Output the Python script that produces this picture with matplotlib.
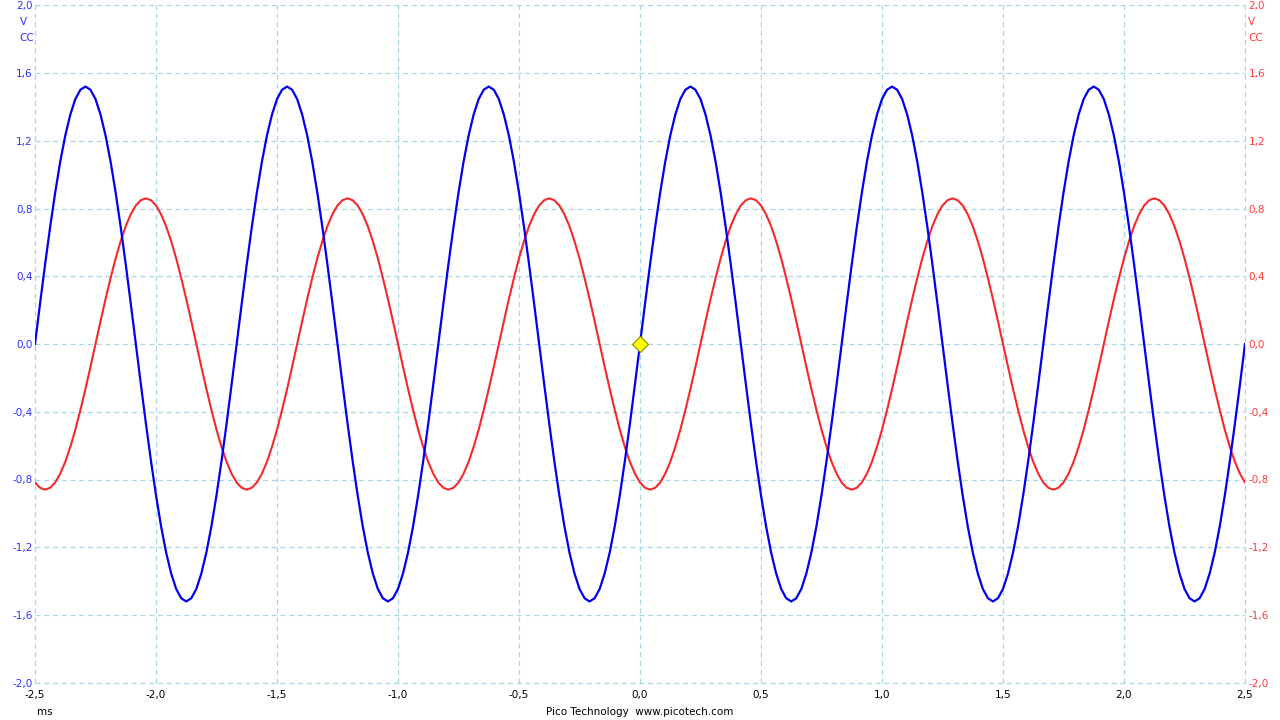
import numpy as np
import matplotlib
matplotlib.use("Agg")
import matplotlib.pyplot as plt

# ---------------- data ----------------
time_ms = np.linspace(-2.5, 2.5, 241)  # sample instants, ms

channel_a_v = [
    0.0, 0.238, 0.470, 0.690, 0.893, 1.075, 1.230, 1.354, 1.446, 1.501,
    1.520, 1.501, 1.446, 1.354, 1.230, 1.075, 0.893, 0.690, 0.470, 0.238,
    0.0, -0.238, -0.470, -0.690, -0.893, -1.075, -1.230, -1.354, -1.446, -1.501,
    -1.520, -1.501, -1.446, -1.354, -1.230, -1.075, -0.893, -0.690, -0.470, -0.238,
    0.0, 0.238, 0.470, 0.690, 0.893, 1.075, 1.230, 1.354, 1.446, 1.501,
    1.520, 1.501, 1.446, 1.354, 1.230, 1.075, 0.893, 0.690, 0.470, 0.238,
    0.0, -0.238, -0.470, -0.690, -0.893, -1.075, -1.230, -1.354, -1.446, -1.501,
    -1.520, -1.501, -1.446, -1.354, -1.230, -1.075, -0.893, -0.690, -0.470, -0.238,
    0.0, 0.238, 0.470, 0.690, 0.893, 1.075, 1.230, 1.354, 1.446, 1.501,
    1.520, 1.501, 1.446, 1.354, 1.230, 1.075, 0.893, 0.690, 0.470, 0.238,
    0.0, -0.238, -0.470, -0.690, -0.893, -1.075, -1.230, -1.354, -1.446, -1.501,
    -1.520, -1.501, -1.446, -1.354, -1.230, -1.075, -0.893, -0.690, -0.470, -0.238,
    0.0, 0.238, 0.470, 0.690, 0.893, 1.075, 1.230, 1.354, 1.446, 1.501,
    1.520, 1.501, 1.446, 1.354, 1.230, 1.075, 0.893, 0.690, 0.470, 0.238,
    0.0, -0.238, -0.470, -0.690, -0.893, -1.075, -1.230, -1.354, -1.446, -1.501,
    -1.520, -1.501, -1.446, -1.354, -1.230, -1.075, -0.893, -0.690, -0.470, -0.238,
    0.0, 0.238, 0.470, 0.690, 0.893, 1.075, 1.230, 1.354, 1.446, 1.501,
    1.520, 1.501, 1.446, 1.354, 1.230, 1.075, 0.893, 0.690, 0.470, 0.238,
    0.0, -0.238, -0.470, -0.690, -0.893, -1.075, -1.230, -1.354, -1.446, -1.501,
    -1.520, -1.501, -1.446, -1.354, -1.230, -1.075, -0.893, -0.690, -0.470, -0.238,
    0.0, 0.238, 0.470, 0.690, 0.893, 1.075, 1.230, 1.354, 1.446, 1.501,
    1.520, 1.501, 1.446, 1.354, 1.230, 1.075, 0.893, 0.690, 0.470, 0.238,
    0.0, -0.238, -0.470, -0.690, -0.893, -1.075, -1.230, -1.354, -1.446, -1.501,
    -1.520, -1.501, -1.446, -1.354, -1.230, -1.075, -0.893, -0.690, -0.470, -0.238,
    0.0,
]

channel_b_v = [
    -0.818, -0.849, -0.860, -0.849, -0.818, -0.766, -0.696, -0.608, -0.506, -0.390,
    -0.266, -0.135, 0.0, 0.135, 0.266, 0.390, 0.506, 0.608, 0.696, 0.766,
    0.818, 0.849, 0.860, 0.849, 0.818, 0.766, 0.696, 0.608, 0.506, 0.390,
    0.266, 0.135, 0.0, -0.135, -0.266, -0.390, -0.506, -0.608, -0.696, -0.766,
    -0.818, -0.849, -0.860, -0.849, -0.818, -0.766, -0.696, -0.608, -0.506, -0.390,
    -0.266, -0.135, 0.0, 0.135, 0.266, 0.390, 0.506, 0.608, 0.696, 0.766,
    0.818, 0.849, 0.860, 0.849, 0.818, 0.766, 0.696, 0.608, 0.506, 0.390,
    0.266, 0.135, 0.0, -0.135, -0.266, -0.390, -0.506, -0.608, -0.696, -0.766,
    -0.818, -0.849, -0.860, -0.849, -0.818, -0.766, -0.696, -0.608, -0.506, -0.390,
    -0.266, -0.135, 0.0, 0.135, 0.266, 0.390, 0.506, 0.608, 0.696, 0.766,
    0.818, 0.849, 0.860, 0.849, 0.818, 0.766, 0.696, 0.608, 0.506, 0.390,
    0.266, 0.135, 0.0, -0.135, -0.266, -0.390, -0.506, -0.608, -0.696, -0.766,
    -0.818, -0.849, -0.860, -0.849, -0.818, -0.766, -0.696, -0.608, -0.506, -0.390,
    -0.266, -0.135, 0.0, 0.135, 0.266, 0.390, 0.506, 0.608, 0.696, 0.766,
    0.818, 0.849, 0.860, 0.849, 0.818, 0.766, 0.696, 0.608, 0.506, 0.390,
    0.266, 0.135, 0.0, -0.135, -0.266, -0.390, -0.506, -0.608, -0.696, -0.766,
    -0.818, -0.849, -0.860, -0.849, -0.818, -0.766, -0.696, -0.608, -0.506, -0.390,
    -0.266, -0.135, 0.0, 0.135, 0.266, 0.390, 0.506, 0.608, 0.696, 0.766,
    0.818, 0.849, 0.860, 0.849, 0.818, 0.766, 0.696, 0.608, 0.506, 0.390,
    0.266, 0.135, 0.0, -0.135, -0.266, -0.390, -0.506, -0.608, -0.696, -0.766,
    -0.818, -0.849, -0.860, -0.849, -0.818, -0.766, -0.696, -0.608, -0.506, -0.390,
    -0.266, -0.135, 0.0, 0.135, 0.266, 0.390, 0.506, 0.608, 0.696, 0.766,
    0.818, 0.849, 0.860, 0.849, 0.818, 0.766, 0.696, 0.608, 0.506, 0.390,
    0.266, 0.135, 0.0, -0.135, -0.266, -0.390, -0.506, -0.608, -0.696, -0.766,
    -0.818,
]

x_ticks = [-2.5, -2.0, -1.5, -1.0, -0.5, 0.0, 0.5, 1.0, 1.5, 2.0, 2.5]
y_ticks = [-2.0, -1.6, -1.2, -0.8, -0.4, 0.0, 0.4, 0.8, 1.2, 1.6, 2.0]
trigger_point = (0.0, 0.0)


def fmt(v):
    s = f"{v:.1f}".replace(".", ",")
    return "0,0" if s == "-0,0" else s


x_labels = [fmt(v) for v in x_ticks]
y_labels = [fmt(v) for v in y_ticks]

# ---------------- styling ----------------
plt.rcParams["font.family"] = ["DejaVu Sans"]
BLUE = "#0000ee"
RED = "#f42a2a"
BLUE_TXT = "#2f2fff"
RED_TXT = "#ff3a3a"
GRID = "#a9d6e2"
FS = 7.5

W, H = 1280, 720
fig = plt.figure(figsize=(W / 100, H / 100), dpi=100)
fig.patch.set_facecolor("white")

left_px, right_px = 35, 1245
top_px, bottom_px = 5.25, 682.75
ax = fig.add_axes([left_px / W, 1 - bottom_px / H,
                   (right_px - left_px) / W, (bottom_px - top_px) / H])

ax.plot(time_ms, channel_b_v, color=RED, lw=1.5, zorder=3)
ax.plot(time_ms, channel_a_v, color=BLUE, lw=1.6, zorder=4)
ax.plot([trigger_point[0]], [trigger_point[1]], marker="D", markersize=8,
        markerfacecolor="#ffff00", markeredgecolor="#8a8a00", markeredgewidth=0.8,
        zorder=5, clip_on=False)

ax.set_xlim(-2.5, 2.5)
ax.set_ylim(-2.0, 2.0)
ax.set_xticks(x_ticks)
ax.set_xticklabels(x_labels)
ax.set_yticks(y_ticks)
ax.set_yticklabels(y_labels)
ax.tick_params(axis="x", length=0, pad=5, labelsize=FS, labelcolor="black")
ax.tick_params(axis="y", length=0, pad=1.5, labelsize=FS, labelcolor=BLUE_TXT)
for s in ax.spines.values():
    s.set_visible(False)
ax.grid(True, color=GRID, lw=0.9, linestyle=(0, (4, 3)), zorder=1)
for gl in ax.get_xgridlines() + ax.get_ygridlines():
    gl.set_clip_on(False)

ax2 = ax.twinx()
ax2.set_ylim(-2.0, 2.0)
ax2.set_yticks(y_ticks)
ax2.set_yticklabels(y_labels)
ax2.tick_params(axis="y", length=0, pad=2.5, labelsize=FS, labelcolor=RED_TXT)
for s in ax2.spines.values():
    s.set_visible(False)

# unit labels
fig.text(20 / W, 1 - 22 / H, "V", color=BLUE_TXT, fontsize=FS, ha="left", va="center")
fig.text(19 / W, 1 - 38 / H, "CC", color=BLUE_TXT, fontsize=FS, ha="left", va="center")
fig.text(1248 / W, 1 - 22 / H, "V", color=RED_TXT, fontsize=FS, ha="left", va="center")
fig.text(1248 / W, 1 - 38 / H, "CC", color=RED_TXT, fontsize=FS, ha="left", va="center")
fig.text(37 / W, 1 - 712 / H, "ms", color="black", fontsize=FS, ha="left", va="center")
fig.text(640 / W, 1 - 712 / H, "Pico Technology  www.picotech.com", color="black",
         fontsize=FS, ha="center", va="center")

fig.savefig("out.png", dpi=100, facecolor="white")
